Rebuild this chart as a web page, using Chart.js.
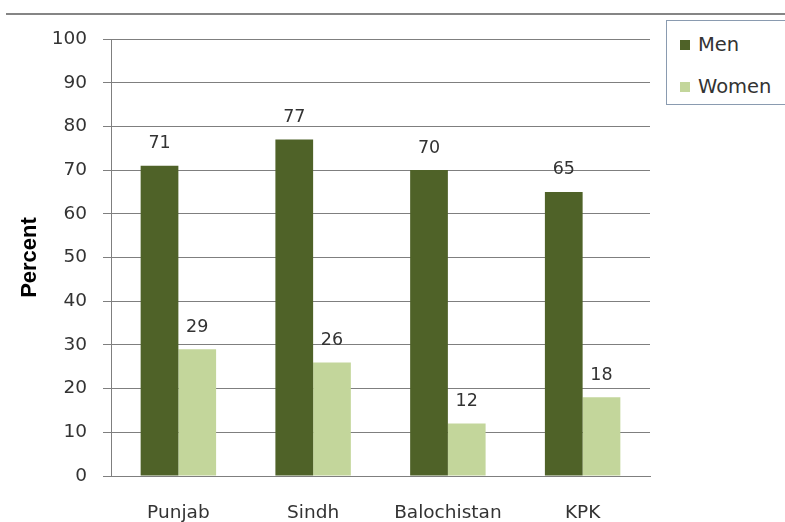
<!DOCTYPE html>
<html>
<head>
<meta charset="utf-8">
<script src="https://cdn.jsdelivr.net/npm/chart.js@4/dist/chart.umd.min.js"></script>
<style>
  html, body { margin: 0; padding: 0; background: #ffffff; }
  #wrap { position: relative; width: 785px; height: 522px; overflow: hidden; background: #fff; }
  #topline { position: absolute; left: 6px; right: 0; top: 13px; height: 2px; background: #858585; }
  #legend { position: absolute; left: 666px; top: 20px; width: 130px; height: 85px; border: 1px solid #8a9bb0; box-sizing: border-box; background: #fff;
            font-family: "DejaVu Sans", sans-serif; font-size: 19.5px; color: #333; }
  .item { position: absolute; left: 13px; height: 22px; line-height: 22px; }
  .sw { display: inline-block; width: 10px; height: 10px; margin-right: 8px; vertical-align: 1px; }
  canvas { position: absolute; left: 0; top: 0; }
</style>
</head>
<body>
<div id="wrap">
  <canvas id="c" width="785" height="522"></canvas>
  <div id="topline"></div>
  <div id="legend">
    <div class="item" style="top:13px"><span class="sw" style="background:#4f6228"></span>Men</div>
    <div class="item" style="top:55px"><span class="sw" style="background:#c3d69b"></span>Women</div>
  </div>
</div>
<script>
const categories = ["Punjab", "Sindh", "Balochistan", "KPK"];
const menValues = [71, 77, 70, 65];
const womenValues = [29, 26, 12, 18];
const yTicks = [0, 10, 20, 30, 40, 50, 60, 70, 80, 90, 100];

const valueLabels = {
  id: 'valueLabels',
  afterDatasetsDraw(chart) {
    const ctx = chart.ctx;
    ctx.save();
    ctx.font = '17.5px "DejaVu Sans", sans-serif';
    ctx.fillStyle = '#333333';
    ctx.textAlign = 'center';
    ctx.textBaseline = 'middle';
    chart.data.datasets.forEach((ds, di) => {
      chart.getDatasetMeta(di).data.forEach((bar, i) => {
        ctx.fillText(String(ds.data[i]), bar.x, bar.y - 22);
      });
    });
    ctx.restore();
  }
};

new Chart(document.getElementById('c'), {
  type: 'bar',
  data: {
    labels: categories,
    datasets: [
      { label: 'Men', data: menValues, backgroundColor: '#4f6228', borderWidth: 0 },
      { label: 'Women', data: womenValues, backgroundColor: '#c3d69b', borderWidth: 0 }
    ]
  },
  options: {
    responsive: false,
    animation: false,
    devicePixelRatio: 1,
    layout: { padding: { left: 0, right: 135, top: 39, bottom: 0 } },
    plugins: { legend: { display: false }, tooltip: { enabled: false } },
    datasets: { bar: { categoryPercentage: 0.56, barPercentage: 1.0 } },
    scales: {
      x: {
        grid: { display: false, drawTicks: false },
        border: { display: true, color: '#7f7f7f', width: 1 },
        ticks: { padding: 26, color: '#333333', font: { family: 'DejaVu Sans', size: 18.5 } },
        afterFit(scale) { scale.height = 46; }
      },
      y: {
        min: 0, max: 100,
        afterBuildTicks(scale) { scale.ticks = yTicks.map(v => ({ value: v })); },
        grid: { color: '#7f7f7f', lineWidth: 1, tickLength: 8 },
        border: { display: true, color: '#7f7f7f', width: 1 },
        ticks: { padding: 16, color: '#333333', font: { family: 'DejaVu Sans', size: 18.5 } },
        title: { display: true, text: 'Percent', color: '#000000', padding: { top: 17, bottom: 0 },
                 font: { family: 'Liberation Sans', size: 22, weight: 'bold' } },
        afterFit(scale) { scale.width = 111; }
      }
    }
  },
  plugins: [valueLabels]
});
</script>
</body>
</html>
